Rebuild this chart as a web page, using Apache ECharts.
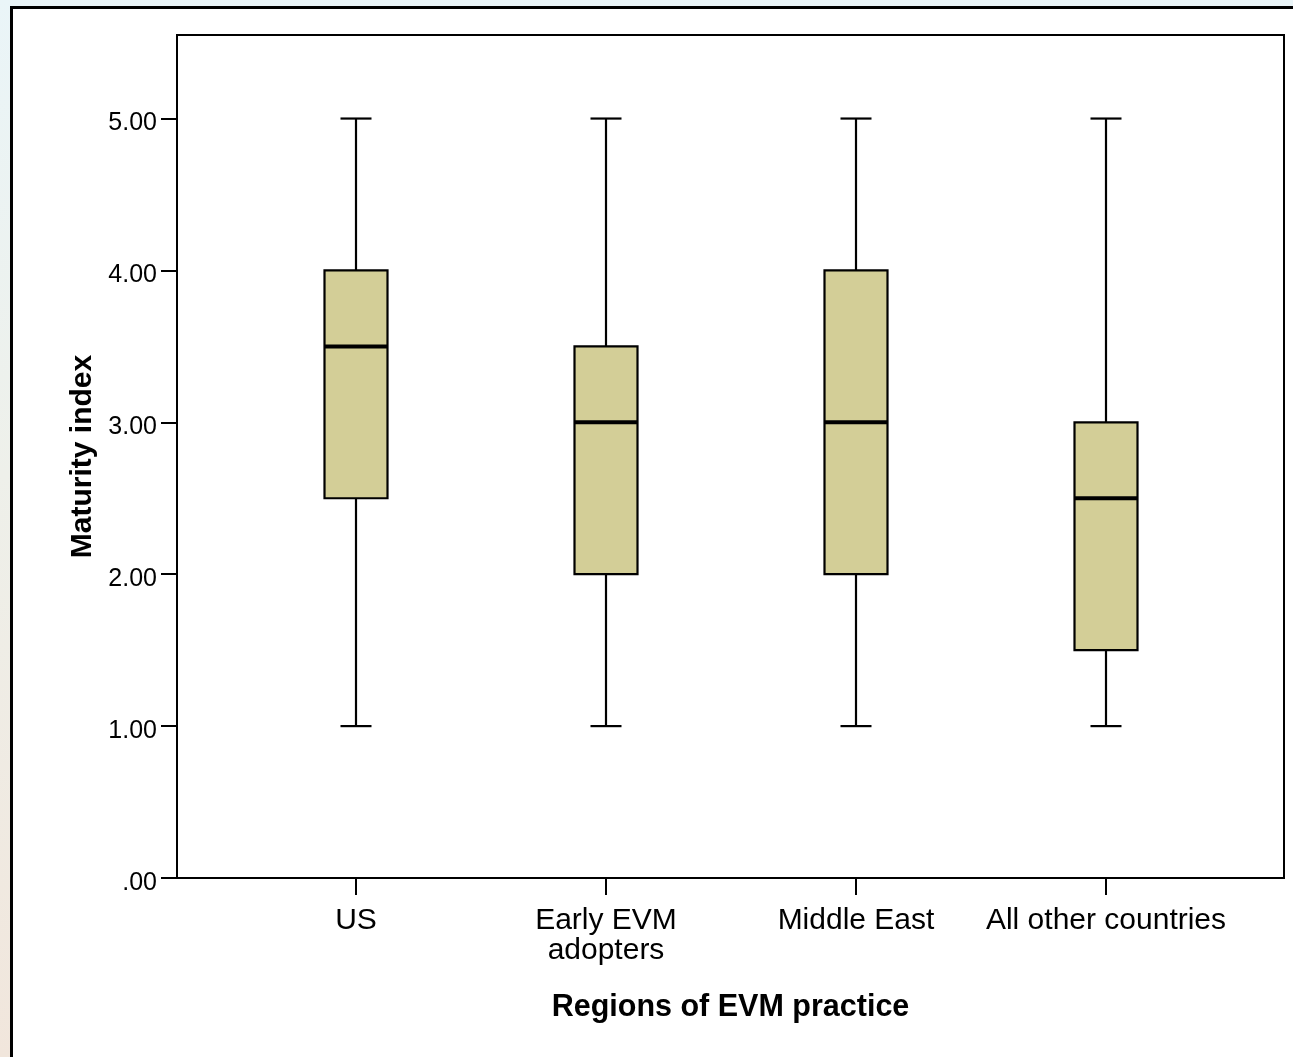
<!DOCTYPE html>
<html lang="en">
<head>
	<meta charset="UTF-8">
	<title>Maturity index by region</title>
	<style>
		html, body { margin: 0; padding: 0; }
		body {
			width: 1293px; height: 1057px; overflow: hidden; position: relative;
			background: linear-gradient(to bottom, #eaf5f8 0%, #eef0ea 45%, #f1e6dc 100%);
		}
		#frame {
			position: absolute; left: 10px; top: 6px; width: 1400px; height: 1200px;
			background: #fff; border: 3px solid #000; box-sizing: border-box;
		}
		#main { position: absolute; left: 0; top: 0; width: 1293px; height: 1057px; }
	</style>
</head>
<body>
	<div id="frame"></div>
	<div id="main"></div>

<script src="https://cdn.jsdelivr.net/npm/echarts@6/dist/echarts.min.js"></script>
<script>
	// box plot values
	var categories = ['US', 'Early EVM\nadopters', 'Middle East', 'All other countries'];
	var minVals = [1, 1, 1, 1];
	var q1Vals = [2.5, 2, 2, 1.5];
	var medians = [3.5, 3, 3, 2.5];
	var q3Vals = [4, 3.5, 4, 3];
	var maxVals = [5, 5, 5, 5];
	var yTicks = [0, 1, 2, 3, 4, 5];
	var yTickLabels = ['.00', '1.00', '2.00', '3.00', '4.00', '5.00'];

	var boxData = categories.map(function (c, i) {
		return [i, minVals[i], q1Vals[i], medians[i], q3Vals[i], maxVals[i]];
	});

	var font = 'Liberation Sans, Arial, sans-serif';
	var myChart = echarts.init(document.getElementById('main'), null, { renderer: 'canvas' });

	function renderBox(params, api) {
		var x = api.value(0);
		var pMin = api.coord([x, api.value(1)]);
		var pQ1 = api.coord([x, api.value(2)]);
		var pMed = api.coord([x, api.value(3)]);
		var pQ3 = api.coord([x, api.value(4)]);
		var pMax = api.coord([x, api.value(5)]);
		var boxW = api.size([0.252, 0])[0];
		var capW = api.size([0.124, 0])[0];
		var line = { stroke: '#000', lineWidth: 2.2 };
		return {
			type: 'group',
			children: [
				{ type: 'line', shape: { x1: pMin[0], y1: pMin[1], x2: pQ1[0], y2: pQ1[1] }, style: line },
				{ type: 'line', shape: { x1: pQ3[0], y1: pQ3[1], x2: pMax[0], y2: pMax[1] }, style: line },
				{ type: 'line', shape: { x1: pMin[0] - capW / 2, y1: pMin[1], x2: pMin[0] + capW / 2, y2: pMin[1] }, style: line },
				{ type: 'line', shape: { x1: pMax[0] - capW / 2, y1: pMax[1], x2: pMax[0] + capW / 2, y2: pMax[1] }, style: line },
				{ type: 'rect', shape: { x: pQ3[0] - boxW / 2, y: pQ3[1], width: boxW, height: pQ1[1] - pQ3[1] },
					style: { fill: '#d3ce97', stroke: '#000', lineWidth: 2.2 } },
				{ type: 'line', shape: { x1: pMed[0] - boxW / 2, y1: pMed[1], x2: pMed[0] + boxW / 2, y2: pMed[1] },
					style: { stroke: '#000', lineWidth: 4 } }
			]
		};
	}

	var option = {
		animation: false,
		backgroundColor: 'transparent',
		grid: {
			left: 177, top: 35, right: 9, bottom: 179,
			show: true, borderColor: '#000', borderWidth: 2, backgroundColor: 'transparent'
		},
		xAxis: {
			type: 'value',
			min: -0.716,
			max: 3.712,
			name: 'Regions of EVM practice',
			nameLocation: 'middle',
			nameGap: 114,
			nameTextStyle: { fontFamily: font, fontSize: 30.5, fontWeight: 'bold', color: '#000' },
			axisLine: { show: true, onZero: false, lineStyle: { color: '#000', width: 2 } },
			axisTick: { show: true, length: 17, customValues: [0, 1, 2, 3], lineStyle: { color: '#000', width: 2 } },
			axisLabel: {
				customValues: [0, 1, 2, 3],
				margin: 28,
				fontFamily: font, fontSize: 30, color: '#000', lineHeight: 30,
				formatter: function (v) { return categories[Math.round(v)]; }
			},
			splitLine: { show: false }
		},
		yAxis: {
			type: 'value',
			min: 0,
			max: 5.55,
			name: 'Maturity index',
			nameLocation: 'middle',
			nameGap: 77,
			nameRotate: 90,
			nameTextStyle: { fontFamily: font, fontSize: 30, fontWeight: 'bold', color: '#000' },
			axisLine: { show: true, onZero: false, lineStyle: { color: '#000', width: 2 } },
			axisTick: { show: true, length: 16, customValues: yTicks, lineStyle: { color: '#000', width: 2 } },
			axisLabel: {
				customValues: yTicks,
				margin: 20,
				verticalAlign: 'top',
				lineHeight: 10,
				fontFamily: font, fontSize: 25, color: '#000',
				formatter: function (v) { return yTickLabels[yTicks.indexOf(Math.round(v))]; }
			},
			splitLine: { show: false }
		},
		series: [{
			type: 'custom',
			renderItem: renderBox,
			encode: { x: 0, y: [1, 2, 3, 4, 5] },
			data: boxData
		}]
	};
	myChart.setOption(option);
</script>
</body>
</html>
